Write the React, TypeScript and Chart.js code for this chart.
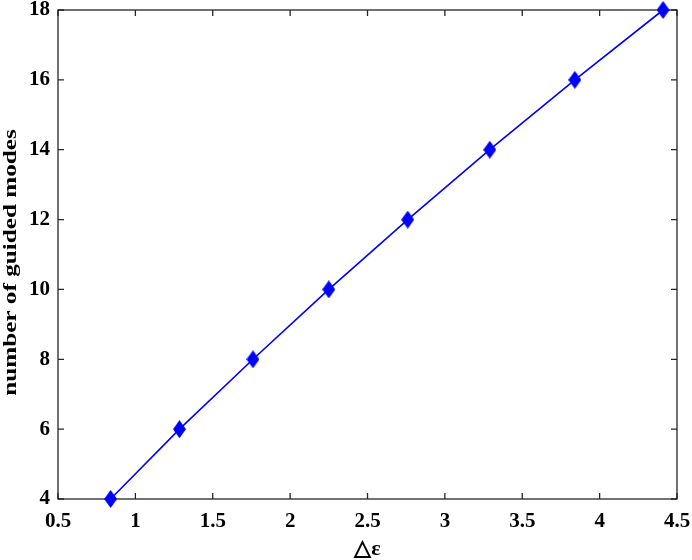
import React, { useEffect, useRef } from "react";
import { Chart, registerables } from "chart.js";

Chart.register(...registerables);

const deltaEps = [0.84, 1.285, 1.76, 2.25, 2.76, 3.29, 3.84, 4.41];
const guidedModes = [4, 6, 8, 10, 12, 14, 16, 18];
const xTitle = "\u25B3\u03B5";
const yTitle = "number of guided modes";

const AXIS = "#262626";
const FONT = "'Liberation Serif', 'Times New Roman', serif";

function makeDiamond(): HTMLCanvasElement {
  const c = document.createElement("canvas");
  const w = 13, h = 18;
  c.width = w;
  c.height = h;
  const ctx = c.getContext("2d")!;
  ctx.fillStyle = "#0000FF";
  ctx.beginPath();
  ctx.moveTo(w / 2, 0);
  ctx.lineTo(w, h / 2);
  ctx.lineTo(w / 2, h);
  ctx.lineTo(0, h / 2);
  ctx.closePath();
  ctx.fill();
  return c;
}

const boxPlugin = {
  id: "matlabBox",
  beforeDatasetsDraw(chart: any) {
    const { ctx, chartArea: a, scales } = chart;
    const L = 6;
    ctx.save();
    ctx.strokeStyle = AXIS;
    ctx.lineWidth = 1.3;
    ctx.strokeRect(a.left, a.top, a.right - a.left, a.bottom - a.top);
    ctx.beginPath();
    scales.x.ticks.forEach((t: any) => {
      const px = scales.x.getPixelForValue(t.value);
      ctx.moveTo(px, a.bottom);
      ctx.lineTo(px, a.bottom - L);
      ctx.moveTo(px, a.top);
      ctx.lineTo(px, a.top + L);
    });
    scales.y.ticks.forEach((t: any) => {
      const py = scales.y.getPixelForValue(t.value);
      ctx.moveTo(a.left, py);
      ctx.lineTo(a.left + L, py);
      ctx.moveTo(a.right, py);
      ctx.lineTo(a.right - L, py);
    });
    ctx.stroke();
    ctx.restore();
  },
  afterDraw(chart: any) {
    const { ctx, chartArea: a } = chart;
    ctx.save();
    ctx.translate(11, (a.top + a.bottom) / 2 + 8);
    ctx.rotate(-Math.PI / 2);
    ctx.scale(1.4, 1);
    ctx.fillStyle = "#000";
    ctx.font = `bold 18px ${FONT}`;
    ctx.textAlign = "center";
    ctx.textBaseline = "middle";
    ctx.fillText(yTitle, 0, 0);
    ctx.restore();
  },
};

export default function App() {
  const ref = useRef<HTMLCanvasElement>(null);
  useEffect(() => {
    document.body.style.margin = "0";
    const diamond = makeDiamond();
    const chart = new Chart(ref.current!, {
      type: "line",
      data: {
        datasets: [
          {
            data: deltaEps.map((x, i) => ({ x, y: guidedModes[i] })),
            borderColor: "#0000FF",
            backgroundColor: "#0000FF",
            borderWidth: 1.6,
            pointStyle: diamond as any,
            pointRadius: 8,
            clip: false as any,
          },
        ],
      },
      options: {
        animation: false,
        responsive: false,
        devicePixelRatio: 1,
        layout: { padding: { top: 10, right: 15, left: 0, bottom: 0 } },
        plugins: { legend: { display: false }, tooltip: { enabled: false } },
        scales: {
          x: {
            type: "linear",
            min: 0.5,
            max: 4.5,
            grid: { display: false, drawTicks: false },
            border: { display: false },
            ticks: {
              stepSize: 0.5,
              color: "#000",
              padding: 12,
              maxRotation: 0,
              font: { family: FONT, size: 21, weight: "bold", lineHeight: 1 },
              callback: (v: any) => String(Number(v)),
            },
            title: {
              display: true,
              text: xTitle,
              color: "#000",
              padding: { top: 0, bottom: 0 },
              font: { family: FONT, size: 22, weight: "bold", lineHeight: 1 },
            },
            afterFit(s: any) {
              s.height = 61;
              s.paddingLeft = 0;
              s.paddingRight = 0;
            },
          },
          y: {
            type: "linear",
            min: 4,
            max: 18,
            grid: { display: false, drawTicks: false },
            border: { display: false },
            ticks: {
              stepSize: 2,
              color: "#000",
              padding: 8,
              font: { family: FONT, size: 21, weight: "bold", lineHeight: 1 },
              callback: (v: any) => String(Number(v)),
            },
            title: { display: false },
            afterFit(s: any) {
              s.width = 58;
              s.paddingTop = 0;
              s.paddingBottom = 0;
            },
          },
        },
      },
      plugins: [boxPlugin],
    });
    return () => chart.destroy();
  }, []);
  return (
    <div style={{ width: 692, height: 560, background: "#fff" }}>
      <canvas ref={ref} width={692} height={560} />
    </div>
  );
}
